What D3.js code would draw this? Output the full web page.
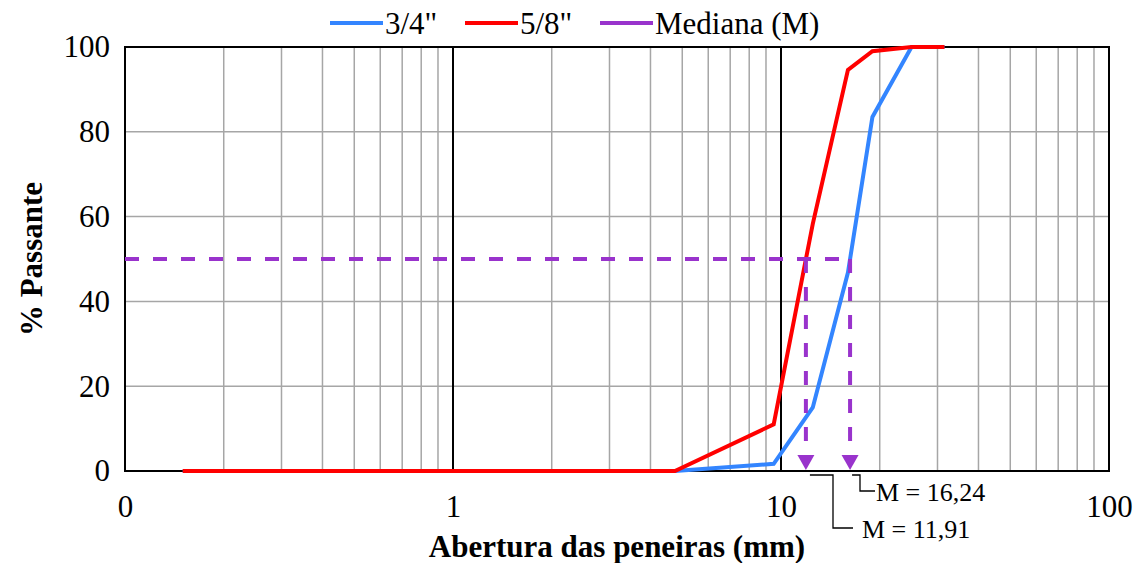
<!DOCTYPE html>
<html>
<head>
<meta charset="utf-8">
<script src="https://cdn.jsdelivr.net/npm/d3@7"></script>
<style>
  html, body { margin: 0; padding: 0; background: #fff; }
  svg { display: block; }
</style>
</head>
<body>
<svg id="chart" width="1141" height="563"></svg>
<script>
// Sieve openings (mm) and cumulative % passing
const sieves = [0.15, 0.3, 0.6, 1.18, 2.36, 4.75, 9.5, 12.5, 16, 19, 25, 31.5];
const passing34 = [0, 0, 0, 0, 0, 0, 1.7, 15, 46.8, 83.5, 100, 100];
const passing58 = [0, 0, 0, 0, 0, 0, 11, 58.3, 94.6, 99, 100, 100];

const seriesNames = ['3/4"', '5/8"', "Mediana (M)"];
const seriesColors = ["#3385ff", "#ff0000", "#9933cc"];

// Median (D50) of each gradation
const medians = [11.91, 16.24];
const medianLabels = ["M = 11,91", "M = 16,24"];
const medianLevel = 50;

const xTickValues = [0.1, 1, 10, 100];
const xTickLabels = ["0", "1", "10", "100"];
const yTickValues = [0, 20, 40, 60, 80, 100];

const FONT = '"Liberation Serif", "Times New Roman", Times, serif';

const svg = d3.select("#chart").attr("font-family", FONT);
const plotL = 125, plotR = 1109, plotT = 47, plotB = 471;

const x = d3.scaleLog().domain([0.1, 100]).range([plotL, plotR]);
const y = d3.scaleLinear().domain([0, 100]).range([plotB, plotT]);

// Minor vertical gridlines (2..9 within each decade)
const minor = [];
[0.1, 1, 10].forEach(d => { for (let k = 2; k <= 9; k++) minor.push(d * k); });
svg.append("g").selectAll("line").data(minor).join("line")
  .attr("x1", d => x(d)).attr("x2", d => x(d))
  .attr("y1", plotT).attr("y2", plotB)
  .attr("stroke", "#a6a6a6").attr("stroke-width", 1.5);

// Horizontal gridlines
svg.append("g").selectAll("line").data(yTickValues.slice(1, -1)).join("line")
  .attr("x1", plotL).attr("x2", plotR)
  .attr("y1", d => y(d)).attr("y2", d => y(d))
  .attr("stroke", "#a6a6a6").attr("stroke-width", 1.5);

// Major vertical gridlines at decades
svg.append("g").selectAll("line").data([1, 10]).join("line")
  .attr("x1", d => x(d)).attr("x2", d => x(d))
  .attr("y1", plotT).attr("y2", plotB)
  .attr("stroke", "#000").attr("stroke-width", 2);

// Plot frame
svg.append("rect")
  .attr("x", plotL).attr("y", plotT)
  .attr("width", plotR - plotL).attr("height", plotB - plotT)
  .attr("fill", "none").attr("stroke", "#000").attr("stroke-width", 2);

// Axes (labels only)
const xAxis = d3.axisBottom(x).tickValues(xTickValues)
  .tickFormat((d, i) => xTickLabels[i]).tickSize(0).tickPadding(24);
const gx = svg.append("g").attr("transform", `translate(0,${plotB})`).call(xAxis)
  .attr("font-family", FONT).attr("font-size", 31);
gx.select(".domain").remove();
gx.selectAll("text").attr("fill", "#000");

const yAxis = d3.axisLeft(y).tickValues(yTickValues).tickFormat(d3.format("d"))
  .tickSize(0).tickPadding(15);
const gy = svg.append("g").attr("transform", `translate(${plotL},0)`).call(yAxis)
  .attr("font-family", FONT).attr("font-size", 31);
gy.select(".domain").remove();
gy.selectAll("text").attr("fill", "#000");

// Gradation curves
const line = d3.line().x(d => x(d[0])).y(d => y(d[1]));
[passing34, passing58].forEach((vals, i) => {
  svg.append("path")
    .datum(sieves.map((s, j) => [s, vals[j]]))
    .attr("d", line)
    .attr("fill", "none")
    .attr("stroke", seriesColors[i])
    .attr("stroke-width", 4)
    .attr("stroke-linejoin", "miter");
});

// Median guide lines
const purple = seriesColors[2];
const mMax = d3.max(medians);
svg.append("line")
  .attr("x1", x(0.1)).attr("x2", x(mMax))
  .attr("y1", y(medianLevel)).attr("y2", y(medianLevel))
  .attr("stroke", purple).attr("stroke-width", 4)
  .attr("stroke-dasharray", "14,14");

const arrowH = 15, arrowW = 17;
medians.forEach(m => {
  svg.append("line")
    .attr("x1", x(m)).attr("x2", x(m))
    .attr("y1", y(medianLevel)).attr("y2", plotB - arrowH)
    .attr("stroke", purple).attr("stroke-width", 4)
    .attr("stroke-dasharray", "14,14");
  svg.append("path")
    .attr("d", `M${x(m) - arrowW / 2},${plotB - arrowH - 1} L${x(m) + arrowW / 2},${plotB - arrowH - 1} L${x(m)},${plotB - 1} Z`)
    .attr("fill", purple);
});

// Median callouts with elbow leaders
const callouts = [
  { label: medianLabels[0], x0: x(medians[0]) + 4, elbow: 833, y1: 528, x1: 853, tx: 862 },
  { label: medianLabels[1], x0: x(medians[1]) + 2, elbow: 860, y1: 491, x1: 875, tx: 876 }
];
callouts.forEach(c => {
  svg.append("path")
    .attr("d", `M${c.x0},475 H${c.elbow} V${c.y1} H${c.x1}`)
    .attr("fill", "none").attr("stroke", "#000").attr("stroke-width", 1.3);
  svg.append("text")
    .attr("x", c.tx).attr("y", c.y1 + 1)
    .attr("dy", "0.35em")
    .attr("font-size", 26)
    .text(c.label);
});

// Axis titles
svg.append("text")
  .attr("x", (plotL + plotR) / 2).attr("y", 546)
  .attr("text-anchor", "middle").attr("dy", "0.35em")
  .attr("font-size", 31).attr("font-weight", "bold")
  .text("Abertura das peneiras (mm)");

svg.append("text")
  .attr("transform", `translate(31,${(plotT + plotB) / 2}) rotate(-90)`)
  .attr("text-anchor", "middle").attr("dy", "0.35em")
  .attr("font-size", 31).attr("font-weight", "bold")
  .text("% Passante");

// Legend
const legendX = [330, 465, 600];
const legend = svg.append("g");
seriesNames.forEach((name, i) => {
  legend.append("line")
    .attr("x1", legendX[i]).attr("x2", legendX[i] + 53)
    .attr("y1", 23).attr("y2", 23)
    .attr("stroke", seriesColors[i]).attr("stroke-width", 4);
  legend.append("text")
    .attr("x", legendX[i] + 55).attr("y", 23)
    .attr("dy", "0.35em")
    .attr("font-size", 31)
    .text(name);
});
</script>
</body>
</html>
